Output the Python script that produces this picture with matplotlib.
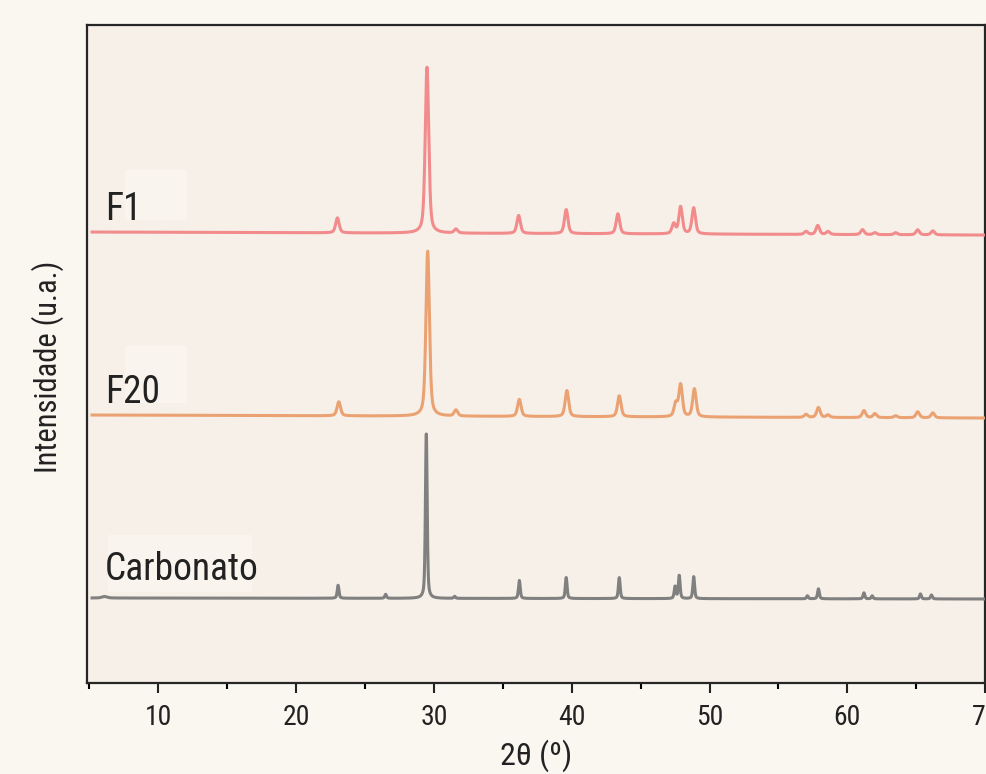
import numpy as np
import matplotlib.pyplot as plt
from matplotlib.patches import Rectangle

plt.rcParams['font.family'] = ['Roboto Condensed', 'Liberation Sans Narrow',
                               'Open Sans Condensed', 'Roboto', 'DejaVu Sans']
plt.rcParams['font.stretch'] = 'condensed'

# picos: posicao 2theta, altura (u.a.)
f1_pos = [23.0, 29.5, 31.6, 36.15, 39.6, 43.35, 47.4, 47.9, 48.85,
          57.0, 57.85, 58.6, 61.1, 62.0, 63.5, 65.1, 66.2]
f1_alt = [15, 166, 4, 18, 24, 20, 10, 27, 26, 3, 9, 3, 5, 2, 2, 5, 4]

f20_pos = [23.1, 29.55, 31.6, 36.2, 39.65, 43.45, 47.55, 47.9, 48.9,
           57.0, 57.9, 58.6, 61.2, 62.0, 63.5, 65.1, 66.2]
f20_alt = [14, 165, 6, 17, 26, 21, 13, 32, 28, 3, 10, 2.5, 7, 4, 2, 6, 5]

carb_pos = [6.1, 23.05, 26.5, 29.45, 31.5, 36.2, 39.6, 43.45, 47.5, 47.8, 48.85,
            57.1, 57.9, 61.2, 61.8, 65.3, 66.1]
carb_alt = [1.5, 13, 4, 165, 2, 18, 21, 21, 12, 23, 22, 3, 10, 6, 3, 5, 4]

# linha de base (inicio, fim) e largura dos picos
f1_base = (451, 448)
f20_base = (268, 265)
carb_base = (85, 84)
f1_fwhm = 0.3
f20_fwhm = 0.3
carb_fwhm = 0.15

nomes = ['F1', 'F20', 'Carbonato']
cores = ['#f28b8c', '#eba273', '#808080']

theta = np.linspace(5.2, 69.9, 6000)


def perfil(pos, alt, fwhm, base):
    y = np.linspace(base[0], base[1], theta.size)
    for p, h in zip(pos, alt):
        w = fwhm * (3 if p < 10 else 1)
        lor = 1 / (1 + ((theta - p) / (w / 2)) ** 2)
        gau = np.exp(-4 * np.log(2) * ((theta - p) / w) ** 2)
        y = y + h * (0.5 * lor + 0.5 * gau)
    return y


curvas = [perfil(f1_pos, f1_alt, f1_fwhm, f1_base),
          perfil(f20_pos, f20_alt, f20_fwhm, f20_base),
          perfil(carb_pos, carb_alt, carb_fwhm, carb_base)]

fig = plt.figure(figsize=(9.86, 7.74), dpi=100, facecolor='#faf7f0')
ax = fig.add_axes([0.0882, 0.1176, 0.911, 0.850])
ax.set_facecolor('#f7f0e8')

# caixas claras atras dos rotulos (x0, x1, y0, y1) e posicao do texto
caixas = [(7.58, 12.1, 463, 513), (7.58, 12.1, 280, 337), (6.35, 16.8, 91, 148)]
textos = [(6.15, 463), (6.15, 280), (6.15, 103)]

for i in range(3):
    x0, x1, y0, y1 = caixas[i]
    ax.add_patch(Rectangle((x0, y0), x1 - x0, y1 - y0, facecolor='#f9f5ee',
                           edgecolor='none', zorder=1))
    ax.plot(theta, curvas[i], color=cores[i], lw=2.2, zorder=3)
    ax.text(textos[i][0], textos[i][1], nomes[i], fontsize=27, color='#222222',
            va='baseline', ha='left', zorder=4)

ax.set_xlim(4.83, 70)
ax.set_ylim(0, 658)
ax.set_xticks([10, 20, 30, 40, 50, 60, 70])
ax.set_xticks([5, 15, 25, 35, 45, 55, 65], minor=True)
ax.set_yticks([])
ax.tick_params(axis='x', which='major', length=7, width=1.5, labelsize=20,
               pad=8, colors='#222222')
ax.tick_params(axis='x', which='minor', length=4, width=1.5)
for s in ax.spines.values():
    s.set_linewidth(1.6)
    s.set_color('#262626')

ax.set_xlabel('2θ (º)', fontsize=23, color='#222222', labelpad=6)
ax.set_ylabel('Intensidade (u.a.)', fontsize=22, color='#222222')
ax.yaxis.set_label_coords(-0.026, 0.48)

fig.savefig('out.png', dpi=100, facecolor=fig.get_facecolor())
